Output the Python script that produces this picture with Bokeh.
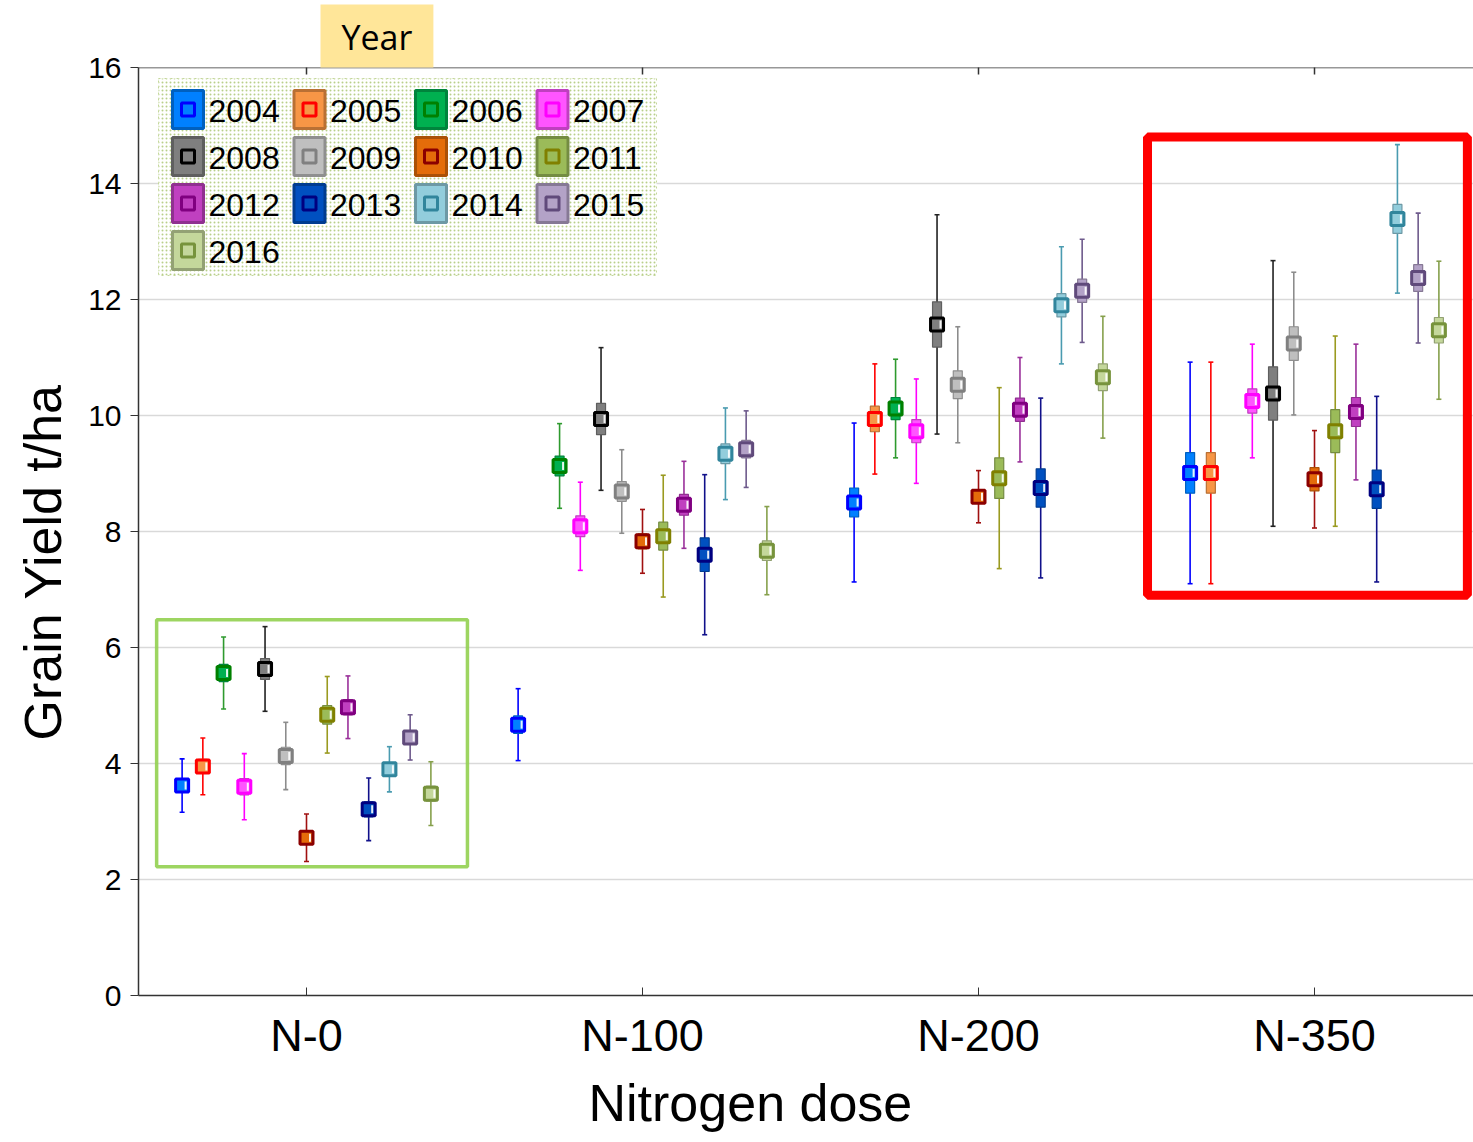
import math
from bokeh.plotting import figure
from bokeh.models import (ColumnDataSource, FixedTicker, BoxAnnotation, Label, Range1d,
                          Title, Span)
from bokeh.embed import file_html
from bokeh.resources import INLINE

# ---- data -------------------------------------------------------------
doses = ["N-0", "N-100", "N-200", "N-350"]
years = ["2004", "2005", "2006", "2007", "2008", "2009", "2010",
         "2011", "2012", "2013", "2014", "2015", "2016"]

# mean grain yield (t/ha), standard error (box half-height), CI half-width (whiskers)
mean_n0 = [3.62, 3.95, 5.56, 3.60, 5.63, 4.13, 2.72, 4.84, 4.97, 3.21, 3.90, 4.45, 3.48]
se_n0 = [0.12, 0.12, 0.15, 0.14, 0.18, 0.15, 0.10, 0.16, 0.13, 0.13, 0.10, 0.10, 0.13]
ci_n0 = [0.46, 0.49, 0.62, 0.57, 0.73, 0.58, 0.41, 0.66, 0.54, 0.54, 0.39, 0.39, 0.55]

mean_n100 = [4.67, None, 9.13, 8.09, 9.94, 8.69, 7.83, 7.92, 8.46, 7.60, 9.34, 9.42, 7.67]
se_n100 = [0.15, None, 0.17, 0.18, 0.27, 0.17, 0.13, 0.24, 0.18, 0.29, 0.17, 0.15, 0.17]
ci_n100 = [0.62, None, 0.73, 0.76, 1.23, 0.72, 0.55, 1.05, 0.75, 1.38, 0.79, 0.66, 0.76]

mean_n200 = [8.50, 9.94, 10.12, 9.73, 11.57, 10.53, 8.60, 8.92, 10.10, 8.75, 11.90, 12.15, 10.66]
se_n200 = [0.25, 0.22, 0.19, 0.20, 0.39, 0.24, 0.10, 0.35, 0.20, 0.33, 0.20, 0.20, 0.23]
ci_n200 = [1.37, 0.95, 0.85, 0.90, 1.89, 1.00, 0.45, 1.56, 0.90, 1.55, 1.01, 0.89, 1.05]

mean_n350 = [9.01, 9.01, None, 10.25, 10.38, 11.24, 8.90, 9.73, 10.06, 8.73, 13.39, 12.37, 11.47]
se_n350 = [0.35, 0.35, None, 0.21, 0.46, 0.29, 0.20, 0.37, 0.25, 0.33, 0.25, 0.23, 0.22]
ci_n350 = [1.91, 1.91, None, 0.98, 2.29, 1.23, 0.84, 1.64, 1.17, 1.60, 1.28, 1.12, 1.19]

y_ticks = [0, 2, 4, 6, 8, 10, 12, 14, 16]

# ---- styling ----------------------------------------------------------
fill_colors = ["#0080FF", "#F79646", "#00B050", "#FF55FF", "#7F7F7F", "#BFBFBF", "#E46C0A",
               "#9BBB59", "#C040C0", "#0050C0", "#92CDDC", "#B3A2C7", "#C4D79B"]
line_colors = ["#0000FF", "#FF0000", "#008000", "#FF00FF", "#000000", "#808080", "#8B0000",
               "#808000", "#800080", "#000080", "#31859C", "#604A7B", "#77933C"]
whisker_colors = ["#0000FF", "#FF0000", "#2E9A2E", "#FF00FF", "#222222", "#8C8C8C", "#A01010",
                  "#9A9A20", "#9A309A", "#10108A", "#4A9BB0", "#6E5A8C", "#86A04C"]


def darker(hex_color, k=0.75):
    r, g, b = (int(hex_color[i:i + 2], 16) for i in (1, 3, 5))
    return "#%02X%02X%02X" % (int(r * k), int(g * k), int(b * k))


FONT = "Liberation Sans"
AXIS_COLOR = "#333333"
YEAR_STEP = 0.0617          # horizontal dodge between years within a dose group
FRAME_LEFT, FRAME_BOTTOM = 138, 995


def sx(px):
    return px - FRAME_LEFT


def sy(py):
    return FRAME_BOTTOM - py


p = figure(width=1473, height=1142, output_backend="svg", toolbar_location=None,
           x_range=Range1d(-0.5, 3.4732), y_range=Range1d(0, 16),
           min_border_left=FRAME_LEFT, min_border_right=0, min_border_top=67,
           min_border_bottom=147, outline_line_color=None,
           background_fill_color="white", border_fill_color="white")

# "Year" tag sitting on top of the frame
p.title.text = "Year"
p.title.align = "left"
p.title.offset = 182
p.title.standoff = 0
p.title.text_font = "Open Sans"
p.title.text_font_size = "34px"
p.title.text_font_style = "normal"
p.title.text_color = "black"
p.title.background_fill_color = "#FFE699"
p.title.padding = dict(left=21, right=21, top=9, bottom=8)

# axes
p.xaxis.ticker = FixedTicker(ticks=list(range(len(doses))))
p.xaxis.major_label_overrides = {i: d for i, d in enumerate(doses)}
p.xaxis.major_tick_in = 8
p.xaxis.major_tick_out = 0
p.xaxis.minor_tick_line_color = None
p.xaxis.major_label_text_font = FONT
p.xaxis.major_label_text_font_size = "45px"
p.xaxis.major_label_text_color = "black"
p.xaxis.major_label_standoff = 14
p.xaxis.axis_line_width = 1.5
p.xaxis.axis_line_color = AXIS_COLOR
p.xaxis.major_tick_line_color = AXIS_COLOR

p.yaxis.ticker = FixedTicker(ticks=y_ticks)
p.yaxis.major_tick_in = 0
p.yaxis.major_tick_out = 8
p.yaxis.minor_tick_line_color = None
p.yaxis.major_label_text_font = FONT
p.yaxis.major_label_text_font_size = "30px"
p.yaxis.major_label_text_color = "black"
p.yaxis.major_label_standoff = 9
p.yaxis.axis_line_width = 1.5
p.yaxis.axis_line_color = AXIS_COLOR
p.yaxis.major_tick_line_color = AXIS_COLOR

# axis titles
p.add_layout(Title(text="Nitrogen dose", align="left", offset=450, standoff=17,
                   text_font=FONT, text_font_size="52px", text_font_style="normal",
                   text_color="black"), "below")
p.add_layout(Title(text="Grain Yield t/ha", align="left", offset=255, standoff=24,
                   vertical_align="top", text_font=FONT, text_font_size="52px",
                   text_font_style="normal", text_color="black"), "left")

p.xgrid.grid_line_color = None
p.ygrid.grid_line_color = "#D9D9D9"
p.ygrid.grid_line_width = 1.5

# top edge line with short inward ticks at each dose
p.add_layout(Span(location=y_ticks[-1], dimension="width", line_color=AXIS_COLOR,
                  line_width=1.5))
p.scatter(x=list(range(len(doses))), y=[y_ticks[-1]] * len(doses), marker="dash",
          angle=math.pi / 2, size=14, line_color=AXIS_COLOR, line_width=1.5)

# ---- points: whisker, SE box, mean marker -----------------------------
means = [mean_n0, mean_n100, mean_n200, mean_n350]
ses = [se_n0, se_n100, se_n200, se_n350]
cis = [ci_n0, ci_n100, ci_n200, ci_n350]

for i, yr in enumerate(years):
    xs, ms, los, his, bh = [], [], [], [], []
    for d in range(len(doses)):
        m = means[d][i]
        if m is None:
            continue
        xs.append(d + (i - 6) * YEAR_STEP)
        ms.append(m)
        los.append(m - cis[d][i])
        his.append(m + cis[d][i])
        bh.append(2 * ses[d][i])
    src = ColumnDataSource(dict(x=xs, mean=ms, lo=los, hi=his, box=bh,
                                xh=[x + 0.0104 for x in xs]))
    wc = whisker_colors[i]
    p.segment(x0="x", y0="lo", x1="x", y1="hi", source=src, line_color=wc, line_width=1.6)
    p.scatter(x="x", y="lo", source=src, marker="dash", size=5, line_color=wc, line_width=1.6)
    p.scatter(x="x", y="hi", source=src, marker="dash", size=5, line_color=wc, line_width=1.6)
    p.rect(x="x", y="mean", width=9, width_units="screen", height="box", source=src,
           fill_color=fill_colors[i], line_color=darker(fill_colors[i]), line_width=1.2)
    p.scatter(x="x", y="mean", source=src, marker="square", size=13,
              fill_color=fill_colors[i], line_color=line_colors[i], line_width=3)
    p.scatter(x="xh", y="mean", source=src, marker="dash", angle=math.pi / 2, size=8,
              line_color="white", line_width=2, line_alpha=0.9)

# ---- highlight frames ---------------------------------------------------
p.add_layout(BoxAnnotation(left=-0.446, right=0.479, bottom=2.22, top=6.48,
                           fill_alpha=0, line_color="#92D050", line_width=3.5,
                           line_alpha=0.9))
p.add_layout(BoxAnnotation(left=2.503, right=3.455, bottom=6.90, top=14.80,
                           fill_alpha=0, line_color="#FF0000", line_width=9,
                           line_alpha=1))

# ---- legend -------------------------------------------------------------
p.add_layout(BoxAnnotation(left=sx(158), right=sx(656), top=sy(78), bottom=sy(275),
                           left_units="screen", right_units="screen",
                           top_units="screen", bottom_units="screen",
                           fill_color="white", fill_alpha=1,
                           hatch_pattern="dot", hatch_color="#9BBB59", hatch_alpha=0.7,
                           hatch_scale=4, hatch_weight=1,
                           line_color="#C4D79B", line_width=1, line_dash="dotted",
                           line_alpha=1))

col_x = [172, 293.5, 415, 536.5]
row_y = [109, 156, 203, 250]
for i, yr in enumerate(years):
    cx0 = col_x[i % 4]
    cy0 = row_y[i // 4]
    p.add_layout(BoxAnnotation(left=sx(cx0), right=sx(cx0 + 31),
                               top=sy(cy0 - 19), bottom=sy(cy0 + 19),
                               left_units="screen", right_units="screen",
                               top_units="screen", bottom_units="screen",
                               fill_color=fill_colors[i], fill_alpha=1,
                               line_color=darker(fill_colors[i]), line_width=3,
                               line_alpha=1))
    p.add_layout(BoxAnnotation(left=sx(cx0 + 9), right=sx(cx0 + 22),
                               top=sy(cy0 - 6.5), bottom=sy(cy0 + 6.5),
                               left_units="screen", right_units="screen",
                               top_units="screen", bottom_units="screen",
                               fill_alpha=0, line_color=line_colors[i], line_width=3,
                               line_alpha=1))
    p.add_layout(Label(x=sx(cx0 + 36), y=sy(cy0 + 1), x_units="screen", y_units="screen",
                       text=yr, text_font=FONT, text_font_size="32px",
                       text_color="black", text_align="left", text_baseline="middle"))

open("out.html", "w").write(file_html(p, INLINE))
